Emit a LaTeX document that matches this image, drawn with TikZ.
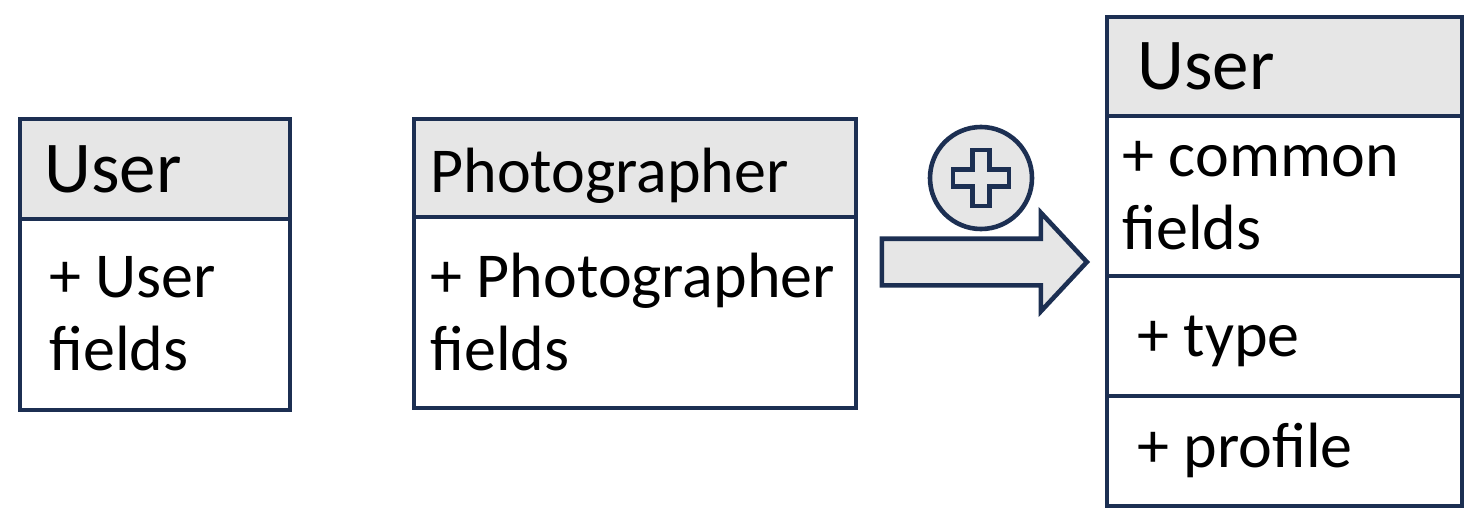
\documentclass[tikz,border=0pt]{standalone}
\usepackage{fontspec}
\setmainfont{Carlito}
\usetikzlibrary{shapes.arrows}
\definecolor{navy}{HTML}{1C2F52}
\definecolor{headgray}{HTML}{E6E6E6}

\begin{document}
\begin{tikzpicture}[x=0.5pt, y=-0.5pt,
  frame/.style={draw=navy, line width=2.3pt},
  title/.style={anchor=base west, inner sep=0pt, font=\fontsize{36.5}{42}\selectfont},
  subtitle/.style={anchor=base west, inner sep=0pt, font=\fontsize{32}{36.5}\selectfont},
  field/.style={anchor=base west, inner sep=0pt, align=left, font=\fontsize{32}{36.5}\selectfont}]
  \useasboundingbox (0,0) rectangle (1468,530);

  % User
  \fill[headgray] (20,119) rectangle (290,219);
  \draw[frame] (20,119) rectangle (290,410);
  \draw[frame] (20,219) -- (290,219);
  \node[title] (usr) at (44,192) {User};
  \node[field] (usrf) at (49,370) {+ User\\fields};

  % Photographer
  \fill[headgray] (414,119) rectangle (856,217);
  \draw[frame] (414,119) rectangle (856,408);
  \draw[frame] (414,217) -- (856,217);
  \node[subtitle] (pho) at (430,192) {Photographer};
  \node[field] (phof) at (430,370) {+ Photographer\\fields};

  % merge
  \node[single arrow, draw=navy, line width=2.3pt, fill=headgray, inner xsep=0pt,
        inner ysep=10.5pt, minimum height=102.5pt, single arrow head extend=13pt,
        single arrow tip angle=94, anchor=tip] (merge) at (1090,262) {};
  \node[circle, draw=navy, line width=2.3pt, fill=headgray, inner sep=0pt,
        minimum size=51pt] (plus) at (981,178) {};
  \draw[navy, line width=2.3pt, fill=headgray, line join=miter]
    (plus.center) ++(-8.5,-28) -- ++(17,0) -- ++(0,19.5) -- ++(19.5,0)
    -- ++(0,17) -- ++(-19.5,0) -- ++(0,19.5) -- ++(-17,0) -- ++(0,-19.5)
    -- ++(-19.5,0) -- ++(0,-17) -- ++(19.5,0) -- cycle;

  % merged User
  \fill[headgray] (1107,17) rectangle (1462,116);
  \draw[frame] (1107,17) rectangle (1462,506);
  \draw[frame] (1107,116) -- (1462,116);
  \draw[frame] (1107,276) -- (1462,276);
  \draw[frame] (1107,396) -- (1462,396);
  \node[title] (all) at (1137,90) {User};
  \node[field] (common) at (1122,249) {+ common\\fields};
  \node[field] (type) at (1137,356) {+ type};
  \node[field] (profile) at (1137,467) {+ profile};
\end{tikzpicture}
\end{document}
